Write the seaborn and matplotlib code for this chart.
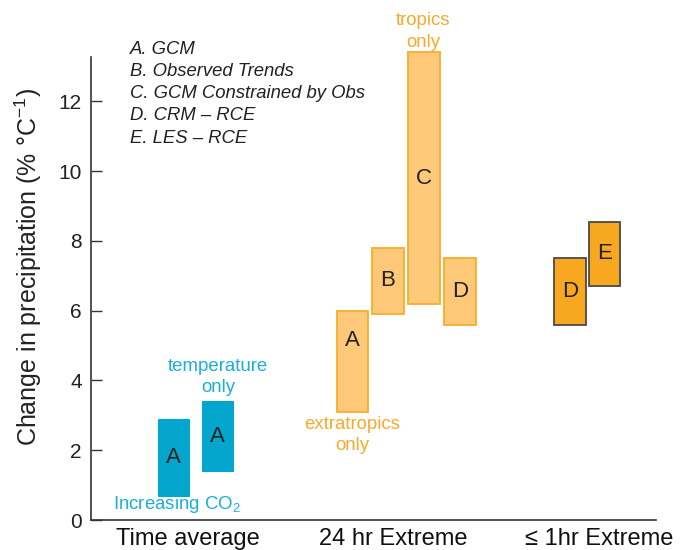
import matplotlib
matplotlib.use("Agg")
import matplotlib.pyplot as plt
import seaborn as sns
import pandas as pd

# Ranges of precipitation sensitivity (% per degree C) for each study type
regimes = ["Time average", "Time average",
           "24 hr Extreme", "24 hr Extreme", "24 hr Extreme", "24 hr Extreme",
           "≤ 1hr Extreme", "≤ 1hr Extreme"]
letters = ["A", "A", "A", "B", "C", "D", "D", "E"]
low = [0.7, 1.4, 3.1, 5.9, 6.2, 5.6, 5.6, 6.7]
high = [2.9, 3.4, 6.0, 7.8, 13.4, 7.5, 7.5, 8.55]

categories = ["Time average", "24 hr Extreme", "≤ 1hr Extreme"]
yticks = [0, 2, 4, 6, 8, 10, 12]
key_lines = ["A. GCM", "B. Observed Trends", "C. GCM Constrained by Obs",
             "D. CRM – RCE", "E. LES – RCE"]

df = pd.DataFrame({"regime": regimes, "letter": letters, "low": low, "high": high})

sns.set_theme(style="ticks")
plt.rcParams["font.family"] = ["Liberation Sans", "DejaVu Sans"]
plt.rcParams["mathtext.default"] = "regular"

BLUE = "#04a6cd"
BLUE_TXT = "#19afd9"
LIGHT_OR = "#fdc878"
LIGHT_OR_EDGE = "#f9ad2c"
DARK_OR = "#f7a81e"
OR_TXT = "#f7aa2a"
INK = "#222222"

style = {
    "Time average": dict(facecolor=BLUE, edgecolor=BLUE, linewidth=0.8),
    "24 hr Extreme": dict(facecolor=LIGHT_OR, edgecolor=LIGHT_OR_EDGE, linewidth=1.3),
    "≤ 1hr Extreme": dict(facecolor=DARK_OR, edgecolor="#4a4a4a", linewidth=1.3),
}
# horizontal placement of bars within each regime (layout only)
offsets = {
    "Time average": [-0.071, 0.143],
    "24 hr Extreme": [-0.200, -0.027, 0.148, 0.324],
    "≤ 1hr Extreme": [-0.140, 0.027],
}
bar_w = 0.154

fig = plt.figure(figsize=(6.84, 5.5), dpi=100)
ax = fig.add_axes([91 / 684, 30 / 550, 565 / 684, 463 / 550])

seen = {c: 0 for c in categories}
for _, row in df.iterrows():
    gi = categories.index(row.regime)
    x = gi + offsets[row.regime][seen[row.regime]]
    seen[row.regime] += 1
    ax.bar(x, row.high - row.low, bottom=row.low, width=bar_w,
           clip_on=False, zorder=3, **style[row.regime])
    mid = (row.low + row.high) / 2
    ly = row.high - 0.85 if (row.regime == "24 hr Extreme" and row.letter == "A") else mid
    ax.text(x, ly, row.letter, ha="center", va="center", fontsize=16,
            color=INK, zorder=4)

ax.set_xlim(-0.472, 2.277)
ax.set_ylim(0, 13.27)
ax.set_yticks(yticks)
ax.set_xticks(range(len(categories)))
ax.set_xticklabels(categories, fontsize=17, color="#111111")
ax.tick_params(axis="x", length=0, pad=5.5)
ax.tick_params(axis="y", direction="in", length=8, width=1.0, color="#333333",
               labelsize=15, labelcolor=INK, pad=6.5)
sns.despine(ax=ax)
for s in ("left", "bottom"):
    ax.spines[s].set_color("#333333")
    ax.spines[s].set_linewidth(1.2)

fig.text(28 / 684, 1 - 267 / 550, "Change in precipitation (% °C$^{-1}$)",
         rotation=90, ha="center", va="center", fontsize=18, color="#222222")

# study key
ax.text(-0.282, 12.22, "\n".join(key_lines), ha="left", va="center",
        fontsize=13.3, fontstyle="italic", color=INK, linespacing=1.4)

# annotations
ax.text(0.146, 4.11, "temperature\nonly", ha="center", va="center",
        fontsize=13.4, color=BLUE_TXT, linespacing=1.3)
ax.text(-0.056, 0.43, "Increasing CO$_2$", ha="center", va="center",
        fontsize=13.4, color=BLUE_TXT)
ax.text(1.144, 14.0, "tropics\nonly", ha="center", va="center",
        fontsize=13.4, color=OR_TXT, linespacing=1.35, clip_on=False)
ax.text(0.798, 2.44, "extratropics\nonly", ha="center", va="center",
        fontsize=13.4, color=OR_TXT, linespacing=1.3)

fig.savefig("out.png", dpi=100)
